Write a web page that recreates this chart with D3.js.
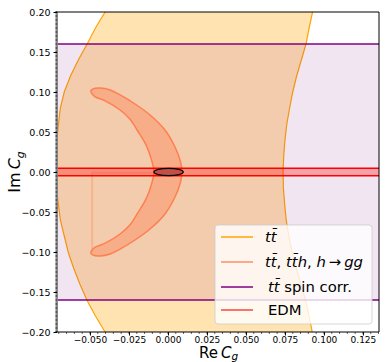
<!DOCTYPE html>
<html>
<head>
<script src="https://d3js.org/d3.v7.min.js"></script>
<style>
  body { margin: 0; background: #fff; }
  svg { display: block; font-family: "DejaVu Sans", sans-serif; }
</style>
</head>
<body>
<div id="chart"></div>
<script>
// ---- data ----
var xTicks = [-0.050, -0.025, 0.000, 0.025, 0.050, 0.075, 0.100, 0.125];
var xTickLabels = ["\u22120.050", "\u22120.025", "0.000", "0.025", "0.050", "0.075", "0.100", "0.125"];
var yTicks = [-0.20, -0.15, -0.10, -0.05, 0.00, 0.05, 0.10, 0.15, 0.20];
var yTickLabels = ["\u22120.20", "\u22120.15", "\u22120.10", "\u22120.05", "0.00", "0.05", "0.10", "0.15", "0.20"];

// tt~ allowed band: left and right contour (ReCg, ImCg), top to bottom
var ttLeft = [[-0.0403,0.20],[-0.0465,0.18],[-0.0518,0.16],[-0.0575,0.14],[-0.0625,0.12],[-0.0665,0.10],
  [-0.0690,0.08],[-0.0702,0.06],[-0.0712,0.04],[-0.0718,0.02],[-0.0720,0.00],[-0.0715,-0.02],[-0.0703,-0.04],
  [-0.0690,-0.06],[-0.0665,-0.08],[-0.0640,-0.10],[-0.0605,-0.12],[-0.0565,-0.14],[-0.0520,-0.16],
  [-0.0465,-0.18],[-0.0403,-0.20]];
var ttRight = [[0.0927,0.20],[0.0905,0.18],[0.0885,0.16],[0.0855,0.14],[0.0825,0.12],[0.0800,0.10],
  [0.0780,0.08],[0.0762,0.06],[0.0750,0.04],[0.0742,0.02],[0.0738,0.00],[0.0740,-0.02],[0.0748,-0.04],
  [0.0758,-0.06],[0.0775,-0.08],[0.0795,-0.10],[0.0822,-0.12],[0.0850,-0.14],[0.0882,-0.16],
  [0.0905,-0.18],[0.0925,-0.20]];

// tt~ spin correlation limits on Im Cg
var spinLimits = [-0.16, 0.16];

// tt~, tt~h, h->gg crescent (closed contour)
var crescent = [[-0.0495,0.1010],[-0.0480,0.1040],[-0.0435,0.1050],[-0.0371,0.1025],[-0.0307,0.0963],
  [-0.0211,0.0850],[-0.0115,0.0713],[-0.0019,0.0525],[0.0045,0.0313],[0.0077,0.0150],[0.0090,0.0000],
  [0.0077,-0.0150],[0.0045,-0.0313],[-0.0019,-0.0525],[-0.0115,-0.0713],[-0.0211,-0.0850],[-0.0307,-0.0963],
  [-0.0371,-0.1025],[-0.0435,-0.1050],[-0.0480,-0.1040],[-0.0495,-0.1010],
  [-0.0490,-0.0985],[-0.0467,-0.0940],[-0.0403,-0.0890],[-0.0307,-0.0775],[-0.0243,-0.0660],
  [-0.0198,-0.0525],[-0.0141,-0.0340],[-0.0109,-0.0175],[-0.0090,0.0000],
  [-0.0109,0.0175],[-0.0141,0.0340],[-0.0198,0.0525],[-0.0243,0.0660],[-0.0307,0.0775],
  [-0.0403,0.0890],[-0.0467,0.0940],[-0.0490,0.0985]];
// faint closing edge of the lower contour piece
var crescentSeam = [[-0.0486,-0.1000],[-0.0486,-0.0008],[-0.0092,-0.0008]];

// EDM band on Im Cg and the combined region
var edmBand = [-0.0047, 0.0047];
var edmCoreCenter = [0.0004, 0.0];
var edmCoreRadii = [0.0094, 0.0046];

var legendKeys = ["tt", "ttgg", "spin", "edm"];
var legendColors = ["#ffa500", "#ff8c69", "#800080", "#ff4040"];

// ---- layout ----
var W = 387, H = 362;
var plot = {left: 58, top: 12, right: 379, bottom: 332};

var x = d3.scaleLinear().domain([-0.0705, 0.1353]).range([plot.left, plot.right]);
var y = d3.scaleLinear().domain([-0.20, 0.20]).range([plot.bottom, plot.top]);

var svg = d3.select('#chart').append('svg')
  .attr('width', W).attr('height', H);

svg.append('clipPath').attr('id', 'clip')
  .append('rect')
  .attr('x', plot.left).attr('y', plot.top)
  .attr('width', plot.right - plot.left).attr('height', plot.bottom - plot.top);

var g = svg.append('g').attr('clip-path', 'url(#clip)');

var line = d3.line().x(function(d) { return x(d[0]) }).y(function(d) { return y(d[1]) });

// tt~ band
var band = ttLeft.concat(ttRight.slice().reverse());
g.append('path')
  .attr('d', line(band) + 'Z')
  .attr('fill', '#ffa500').attr('fill-opacity', 0.3).attr('stroke', 'none');
[ttLeft, ttRight].forEach(function(c) {
  g.append('path').attr('d', line(c))
    .attr('fill', 'none').attr('stroke', '#ffa500').attr('stroke-width', 1.2);
});

// spin correlation
g.append('rect')
  .attr('x', plot.left).attr('width', plot.right - plot.left)
  .attr('y', y(spinLimits[1])).attr('height', y(spinLimits[0]) - y(spinLimits[1]))
  .attr('fill', '#800080').attr('fill-opacity', 0.1);
spinLimits.forEach(function(v) {
  g.append('line')
    .attr('x1', plot.left).attr('x2', plot.right)
    .attr('y1', y(v)).attr('y2', y(v))
    .attr('stroke', '#800080').attr('stroke-width', 1.5);
});

// crescent
g.append('path')
  .attr('d', d3.line().x(function(d) { return x(d[0]) }).y(function(d) { return y(d[1]) })
    .curve(d3.curveCatmullRomClosed)(crescent))
  .attr('fill', '#ff7f50').attr('fill-opacity', 0.38)
  .attr('stroke', '#ff7f50').attr('stroke-width', 1.5);
g.append('path')
  .attr('d', line(crescentSeam))
  .attr('fill', 'none').attr('stroke', '#ff7f50').attr('stroke-opacity', 0.3).attr('stroke-width', 2);

// EDM band
g.append('rect')
  .attr('x', plot.left).attr('width', plot.right - plot.left)
  .attr('y', y(edmBand[1])).attr('height', y(edmBand[0]) - y(edmBand[1]))
  .attr('fill', '#ff0000').attr('fill-opacity', 0.3);
edmBand.forEach(function(v) {
  g.append('line')
    .attr('x1', plot.left).attr('x2', plot.right)
    .attr('y1', y(v)).attr('y2', y(v))
    .attr('stroke', '#ff0000').attr('stroke-width', 1.5);
});

// combined region
g.append('ellipse')
  .attr('cx', x(edmCoreCenter[0])).attr('cy', y(edmCoreCenter[1]))
  .attr('rx', x(edmCoreCenter[0] + edmCoreRadii[0]) - x(edmCoreCenter[0]))
  .attr('ry', y(edmCoreCenter[1]) - y(edmCoreCenter[1] + edmCoreRadii[1]))
  .attr('fill', '#c24f45').attr('stroke', '#000').attr('stroke-width', 1.2);

// ---- axes ----
var xMinor = d3.range(-70, 136, 5).map(function(v) { return v / 1000 });
var yMinor = d3.range(-200, 201, 5).map(function(v) { return v / 1000 });

// gray left spine (dense minor ticks)
svg.append('rect')
  .attr('x', plot.left - 2.5).attr('y', plot.top)
  .attr('width', 2.5).attr('height', plot.bottom - plot.top)
  .attr('fill', '#8a8a8a');
svg.selectAll('line.yminor').data(yMinor)
  .enter().append('line')
  .attr('class', 'yminor')
  .attr('x1', plot.left - 2.5).attr('x2', plot.left - 0.8)
  .attr('y1', function(d) { return y(d) }).attr('y2', function(d) { return y(d) })
  .attr('stroke', '#222').attr('stroke-width', 1);
svg.selectAll('line.xminor').data(xMinor)
  .enter().append('line')
  .attr('class', 'xminor')
  .attr('x1', function(d) { return x(d) }).attr('x2', function(d) { return x(d) })
  .attr('y1', plot.bottom).attr('y2', plot.bottom + 2)
  .attr('stroke', '#000').attr('stroke-width', 0.6);

var xAxis = svg.append('g')
  .attr('transform', 'translate(0,' + plot.bottom + ')')
  .call(d3.axisBottom(x).tickValues(xTicks).tickSize(3.5).tickPadding(1)
    .tickFormat(function(d, i) { return xTickLabels[i] }));
xAxis.select('.domain').remove();
xAxis.selectAll('text').attr('font-size', 9).attr('font-family', 'DejaVu Sans').attr('fill', '#000');

var yAxis = svg.append('g')
  .attr('transform', 'translate(' + (plot.left - 1) + ',0)')
  .call(d3.axisLeft(y).tickValues(yTicks).tickSize(3.5).tickPadding(3)
    .tickFormat(function(d, i) { return yTickLabels[i] }));
yAxis.select('.domain').remove();
yAxis.selectAll('text').attr('font-size', 9.5).attr('font-family', 'DejaVu Sans').attr('fill', '#000');

// frame
svg.append('path')
  .attr('d', 'M' + (plot.left - 2.5) + ',' + plot.top + 'H' + plot.right + 'V' + plot.bottom + 'H' + (plot.left - 2.5))
  .attr('fill', 'none').attr('stroke', '#000').attr('stroke-width', 1);

// axis labels
var xl = svg.append('text')
  .attr('x', (plot.left + plot.right) / 2).attr('y', 357.5)
  .attr('text-anchor', 'middle').attr('font-size', 15);
xl.append('tspan').text('Re\u2009');
xl.append('tspan').attr('font-style', 'italic').text('C');
xl.append('tspan').attr('font-style', 'italic').attr('font-size', 10.5).attr('dy', 2.5).text('g');

var yl = svg.append('text')
  .attr('transform', 'translate(20,' + (plot.top + plot.bottom) / 2 + ') rotate(-90)')
  .attr('text-anchor', 'middle').attr('font-size', 16);
yl.append('tspan').text('Im\u2009');
yl.append('tspan').attr('font-style', 'italic').text('C');
yl.append('tspan').attr('font-style', 'italic').attr('font-size', 11).attr('dy', 3.5).text('g');

// ---- legend ----
var leg = svg.append('g');
leg.append('rect')
  .attr('x', 215).attr('y', 225).attr('width', 157).attr('height', 99).attr('rx', 3)
  .attr('fill', '#fff').attr('fill-opacity', 0.8)
  .attr('stroke', '#ccc').attr('stroke-opacity', 0.8);

var rowY = [237, 262, 287, 310];
var tbar = 't\u0304';
var legendParts = [
  [['t' + tbar, 'italic']],
  [['t' + tbar, 'italic'], [', ', 'normal'], ['t' + tbar + 'h', 'italic'], [', ', 'normal'],
   ['h', 'italic'], ['\u2009\u2192\u2009', 'normal'], ['gg', 'italic']],
  [['\u2009t' + tbar, 'italic'], [' spin corr.', 'normal']],
  [['\u2009EDM', 'normal']]
];
legendKeys.forEach(function(k, i) {
  leg.append('line')
    .attr('x1', 221).attr('x2', 253).attr('y1', rowY[i]).attr('y2', rowY[i])
    .attr('stroke', legendColors[i]).attr('stroke-width', 1.5);
  var t = leg.append('text').attr('x', 265).attr('y', rowY[i] + 5).attr('font-size', 14.8);
  legendParts[i].forEach(function(p) {
    t.append('tspan').attr('font-style', p[1]).text(p[0]);
  });
});
</script>
</body>
</html>
